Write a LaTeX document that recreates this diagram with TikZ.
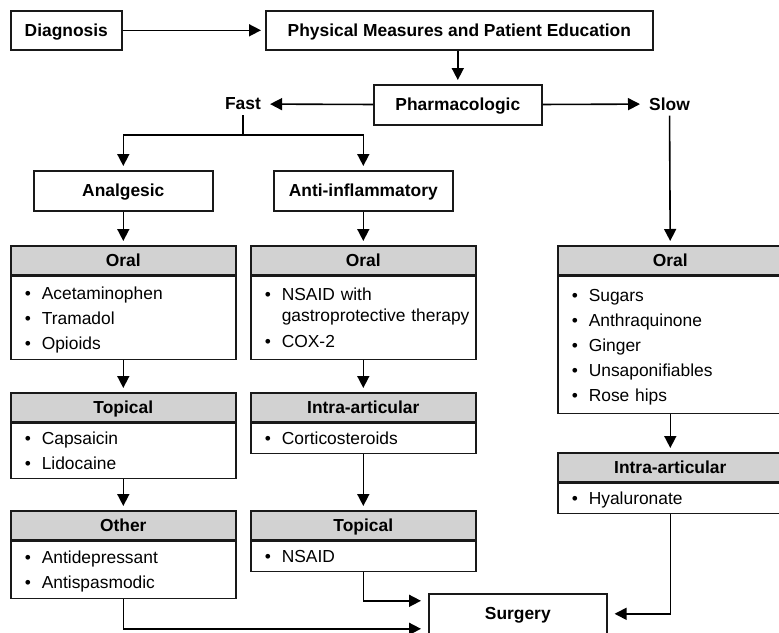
\documentclass[tikz,border=0pt]{standalone}
\usepackage{fontspec}
\setmainfont{Liberation Sans}
\usetikzlibrary{arrows.meta,positioning}
\newcommand{\dfont}{\fontsize{17.4}{25}\selectfont}
\newcommand{\itm}[1]{\rule[-3.8pt]{0pt}{20pt}\hspace*{14pt}\makebox[17pt][l]{\textbullet}#1}
\newcommand{\cont}[1]{\rule[-3.8pt]{0pt}{20pt}\hspace*{31pt}#1}

\begin{document}
\begin{tikzpicture}[x=1pt,y=-1pt,
    box/.style={draw=black!90,line width=1.6pt,font=\dfont\bfseries,inner sep=0pt,
      text height=13pt,text depth=1pt,minimum height=39pt,anchor=north west},
    head/.style={box,fill=gray!35,minimum width=225pt,minimum height=29pt},
    body/.style={draw=black!90,line width=1.6pt,font=\dfont,inner xsep=0pt,inner ysep=5pt,
      text width=225pt,align=left,below=0pt of #1},
    branch/.style={font=\dfont\bfseries,inner sep=5pt},
    arr/.style={line width=1.6pt,-{Triangle[length=12pt,width=12pt]},shorten >=4pt}]
                \useasboundingbox (0,0) rectangle (779,632);

                \node[box,minimum width=111pt] (diag) at (10,10) {Diagnosis};
                \node[box,minimum width=387pt] (phys) at (265,10) {Physical Measures and Patient Education};
                \node[box,minimum width=168pt,minimum height=40pt] (pharm) at (373,84) {Pharmacologic};
                \node[branch] (fast) at (243,104) {Fast};
                \node[branch] (slow) at (669.5,104) {Slow};
                \coordinate (fastsplit) at (243,135);
                \node[box,minimum width=179pt,minimum height=40pt] (analg) at (33,170) {Analgesic};
                \node[box,minimum width=179pt,minimum height=40pt] (antiinf) at (273,170) {Anti-inflammatory};

                \node[head] (oralA-h) at (10,245) {Oral};
                \node[body=oralA-h,minimum height=83pt] (oralA) {\itm{Acetaminophen}\\\itm{Tramadol}\\\itm{Opioids}};
                \node[head] (topA-h) at (10,392) {Topical};
                \node[body=topA-h] (topA) {\itm{Capsaicin}\\\itm{Lidocaine}};
                \node[head] (otherA-h) at (10,510) {Other};
                \node[body=otherA-h,minimum height=57pt] (otherA) {\itm{Antidepressant}\\\itm{Antispasmodic}};

                \node[head] (oralB-h) at (250,245) {Oral};
                \node[body=oralB-h,minimum height=83pt] (oralB) {\itm{NSAID with}\\[-4pt]\cont{gastroprotective therapy}\\[1pt]\itm{COX-2}};
                \node[head] (intraB-h) at (250,392) {Intra-articular};
                \node[body=intraB-h] (intraB) {\itm{Corticosteroids}};
                \node[head] (topB-h) at (250,510) {Topical};
                \node[body=topB-h] (topB) {\itm{NSAID}};

                \node[head] (oralC-h) at (557,245) {Oral};
                \node[body=oralC-h,minimum height=137pt] (oralC) {\itm{Sugars}\\\itm{Anthraquinone}\\\itm{Ginger}\\\itm{Unsaponifiables}\\\itm{Rose hips}};
                \node[head] (intraC-h) at (557,452) {Intra-articular};
                \node[body=intraC-h] (intraC) {\itm{Hyaluronate}};

                \node[box,minimum width=178pt,minimum height=40pt] (surgery) at (428,593) {Surgery};

                \draw[arr] (diag) -- (phys);
                \draw[arr] (pharm.north |- phys.south) -- (pharm);
                \draw[arr] (pharm) -- (fast);
                \draw[arr] (pharm) -- (slow);
                \draw[line width=1.6pt] (fast) -- (fastsplit);
                \draw[arr] (fastsplit) -| (analg);
                \draw[arr] (fastsplit) -| (antiinf);
                \draw[arr] (slow) -- (oralC-h);
                \draw[arr] (analg) -- (oralA-h);
                \draw[arr] (antiinf) -- (oralB-h);
                \draw[arr] (oralA) -- (topA-h);
                \draw[arr] (topA) -- (otherA-h);
                \draw[arr] (oralB) -- (intraB-h);
                \draw[arr] (intraB) -- (topB-h);
                \draw[arr] (oralC) -- (intraC-h);
                \draw[arr,shorten >=7pt] (topB) |- ([yshift=13pt]surgery.west);
                \draw[arr,shorten >=7pt] (otherA) |- ([yshift=-15pt]surgery.west);
                \draw[arr,shorten >=7pt] (intraC) |- (surgery);
\end{tikzpicture}
\end{document}
